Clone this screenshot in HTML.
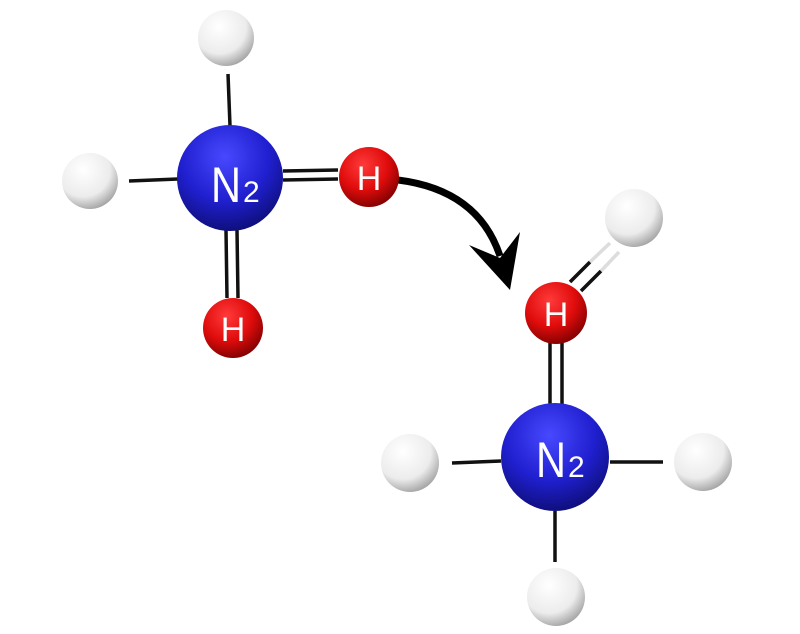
<!DOCTYPE html>
<html><head><meta charset="utf-8"><style>
html,body{margin:0;padding:0;background:#fff;width:800px;height:634px;overflow:hidden}
svg{display:block}
text{font-family:"Liberation Sans","DejaVu Sans",sans-serif;fill:#fff}
</style></head><body>
<svg width="800" height="634" viewBox="0 0 800 634">
<defs>
<radialGradient id="w" cx="0.38" cy="0.3" r="0.8">
<stop offset="0" stop-color="#ffffff"/><stop offset="0.6" stop-color="#ececec"/><stop offset="1" stop-color="#909090"/></radialGradient>
<radialGradient id="r" cx="0.4" cy="0.3" r="0.75">
<stop offset="0" stop-color="#ff3a3a"/><stop offset="0.55" stop-color="#e00c0c"/><stop offset="1" stop-color="#7a0000"/></radialGradient>
<radialGradient id="b" cx="0.45" cy="0.3" r="0.75">
<stop offset="0" stop-color="#4848ff"/><stop offset="0.55" stop-color="#2020d0"/><stop offset="1" stop-color="#0c0c70"/></radialGradient>
</defs>
<g stroke="#111" stroke-width="3.5" fill="none">
<line x1="228" y1="74" x2="230" y2="126"/>
<line x1="129" y1="181" x2="178" y2="179"/>
<line x1="283" y1="171" x2="338" y2="170"/>
<line x1="283" y1="180" x2="338" y2="179"/>
<line x1="226" y1="230" x2="227" y2="298"/>
<line x1="237" y1="230" x2="238" y2="298"/>
<line x1="550" y1="340" x2="550" y2="404"/>
<line x1="562" y1="340" x2="562" y2="404"/>
<line x1="452" y1="463" x2="501" y2="461"/>
<line x1="610" y1="462" x2="663" y2="462"/>
<line x1="555" y1="511" x2="555" y2="562"/>
<line x1="570" y1="282" x2="590" y2="262"/>
<line x1="581" y1="291" x2="601" y2="271"/>
</g>
<g stroke="#ddd" stroke-width="3.5">
<line x1="590" y1="262" x2="610" y2="243"/>
<line x1="601" y1="271" x2="619" y2="252"/>
</g>
<path d="M398,180 Q478,190 500,256" stroke="#000" stroke-width="7" fill="none"/>
<polygon points="469,245 500,258 520,232 510,290" fill="#000"/>
<circle cx="226" cy="38" r="28" fill="url(#w)"/>
<circle cx="90" cy="181" r="28" fill="url(#w)"/>
<circle cx="230" cy="178" r="53" fill="url(#b)"/>
<circle cx="369" cy="177" r="30" fill="url(#r)"/>
<circle cx="233" cy="328" r="30" fill="url(#r)"/>
<circle cx="634" cy="218" r="29" fill="url(#w)"/>
<circle cx="556" cy="313" r="31" fill="url(#r)"/>
<circle cx="555" cy="457" r="54" fill="url(#b)"/>
<circle cx="410" cy="463" r="29" fill="url(#w)"/>
<circle cx="703" cy="462" r="29" fill="url(#w)"/>
<circle cx="556" cy="597" r="29" fill="url(#w)"/>
<text x="211" y="202" font-size="50" textLength="30" lengthAdjust="spacingAndGlyphs">N</text>
<text x="243" y="202" font-size="30">2</text>
<text x="536" y="477" font-size="50" textLength="30" lengthAdjust="spacingAndGlyphs">N</text>
<text x="568" y="477" font-size="30">2</text>
<text x="369" y="190" font-size="34" text-anchor="middle">H</text>
<text x="233" y="341" font-size="34" text-anchor="middle">H</text>
<text x="556" y="326" font-size="34" text-anchor="middle">H</text>
</svg>
</body></html>
